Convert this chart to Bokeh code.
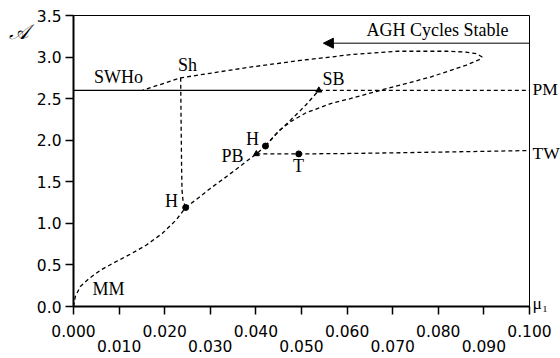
from bokeh.plotting import figure
from bokeh.models import (Range1d, FixedTicker, Label, Arrow, NormalHead, LinearAxis,
                          NumeralTickFormatter)
from bokeh.embed import file_html
from bokeh.resources import INLINE

# ---- data ----
main_x = [0.0000, 0.0004, 0.0015, 0.0035, 0.0060, 0.0090, 0.0125, 0.0160, 0.0195, 0.0225, 0.0246,
          0.0275, 0.0300, 0.0330, 0.0359, 0.0380, 0.0401, 0.0421]
main_y = [0.00, 0.12, 0.24, 0.34, 0.44, 0.53, 0.63, 0.74, 0.88, 1.04, 1.19,
          1.31, 1.42, 1.54, 1.66, 1.75, 1.835, 1.93]

sb_branch_x = [0.0421, 0.0445, 0.0466, 0.0487, 0.0509, 0.0538]
sb_branch_y = [1.93, 2.08, 2.19, 2.30, 2.42, 2.60]

loop_x = [0.0421, 0.0432, 0.0452, 0.0478, 0.0510, 0.0564, 0.0607, 0.0673, 0.0783, 0.0860,
          0.0890, 0.0896, 0.0885, 0.0860, 0.0819, 0.0710, 0.0607, 0.0564, 0.0498, 0.0388,
          0.0235, 0.0151]
loop_y = [1.93, 2.00, 2.12, 2.23, 2.33, 2.44, 2.50, 2.60, 2.76, 2.90,
          2.97, 3.00, 3.04, 3.06, 3.07, 3.07, 3.03, 3.00, 2.96, 2.88,
          2.75, 2.60]

sh_x = [0.0235, 0.0236, 0.0237, 0.0238, 0.0240, 0.0246]
sh_y = [2.75, 2.20, 1.70, 1.40, 1.28, 1.19]

pm_solid_x = [0.0, 0.0538]
pm_dash_x = [0.0538, 0.1]
pm_level = 2.6

tw_x = [0.0401, 0.0494, 0.060, 0.070, 0.080, 0.090, 0.100]
tw_y = [1.835, 1.835, 1.840, 1.848, 1.857, 1.866, 1.876]

dot_x = [0.0246, 0.0421, 0.0494]
dot_y = [1.19, 1.93, 1.835]
tri_x = [0.0401, 0.0538]
tri_y = [1.835, 2.60]

agh_start = (0.1, 3.167)
agh_end = (0.0548, 3.167)

label_text = ["SWHo", "Sh", "SB", "H", "PB", "T", "H", "MM"]
label_x = [0.00987, 0.0250, 0.0570, 0.03925, 0.03487, 0.04934, 0.02149, 0.00768]
label_y = [2.766, 2.899, 2.742, 2.009, 1.816, 1.684, 1.263, 0.2045]

right_labels = {2.61: "PM", 1.852: "TW", 0.04: "μ₁"}
y_title = {3.30: "𝒜"}

x_ticks_even = [0.0, 0.02, 0.04, 0.06, 0.08, 0.1]
x_ticks_odd = [0.01, 0.03, 0.05, 0.07, 0.09]
y_ticks = [0.0, 0.5, 1.0, 1.5, 2.0, 2.5, 3.0, 3.5]

SERIF = "Liberation Serif"
SANS = "DejaVu Sans"
SERIF_SIZE = "18px"

p = figure(frame_width=456, frame_height=291, min_border_left=73, min_border_right=31,
           min_border_top=15, min_border_bottom=52,
           x_range=Range1d(0, 0.1), y_range=Range1d(0, 3.5),
           output_backend="svg", toolbar_location=None, x_axis_location=None)
p.grid.visible = False
p.background_fill_color = "white"
p.border_fill_color = "white"
p.outline_line_color = "black"
p.outline_line_width = 1

all_ticks = sorted(x_ticks_even + x_ticks_odd)

ax1 = LinearAxis(ticker=FixedTicker(ticks=all_ticks),
                 formatter=NumeralTickFormatter(format="0.000"),
                 major_label_overrides={t: "" for t in x_ticks_odd})
ax2 = LinearAxis(ticker=FixedTicker(ticks=all_ticks),
                 formatter=NumeralTickFormatter(format="0.000"),
                 major_label_overrides={t: "" for t in x_ticks_even})
for ax in (ax1, ax2):
    ax.major_label_text_font = SANS
    ax.major_label_text_font_size = "15.5px"
    ax.major_label_text_color = "black"
    ax.minor_tick_line_color = None
ax1.axis_line_width = 2
ax1.axis_line_color = "black"
ax1.major_tick_line_color = "black"
ax1.major_tick_line_width = 1.5
ax1.major_tick_out = 8
ax1.major_tick_in = 0
ax1.major_label_standoff = 10
ax2.axis_line_color = None
ax2.major_tick_line_color = None
ax2.major_tick_out = 0
ax2.major_tick_in = 0
ax2.major_label_standoff = 0
p.add_layout(ax1, "below")
p.add_layout(ax2, "below")

ya = p.yaxis[0]
ya.ticker = FixedTicker(ticks=y_ticks)
ya.formatter = NumeralTickFormatter(format="0.0")
ya.major_label_text_font = SANS
ya.major_label_text_font_size = "15.5px"
ya.major_label_text_color = "black"
ya.axis_line_width = 2
ya.axis_line_color = "black"
ya.major_tick_line_color = "black"
ya.major_tick_line_width = 1.5
ya.major_tick_out = 8
ya.major_tick_in = 0
ya.minor_tick_line_color = None
ya.major_label_standoff = 4

# outer left axis carrying only the script-A title near the top
ta = LinearAxis(ticker=FixedTicker(ticks=list(y_title.keys())),
                major_label_overrides=y_title)
ta.axis_line_color = None
ta.major_tick_line_color = None
ta.minor_tick_line_color = None
ta.major_tick_out = 0
ta.major_tick_in = 0
ta.major_label_standoff = 5
ta.major_label_text_font = SERIF
ta.major_label_text_font_style = "italic"
ta.major_label_text_font_size = "21px"
ta.major_label_text_color = "black"
p.add_layout(ta, "left")

ra = LinearAxis(ticker=FixedTicker(ticks=list(right_labels.keys())),
                major_label_overrides=right_labels)
ra.axis_line_color = None
ra.major_tick_line_color = None
ra.minor_tick_line_color = None
ra.major_tick_out = 0
ra.major_tick_in = 0
ra.major_label_standoff = 3
ra.major_label_text_font = SERIF
ra.major_label_text_font_size = "17.5px"
ra.major_label_text_color = "black"
p.add_layout(ra, "right")

DASH = "4 3"
LW = 1.3
p.line(main_x, main_y, line_color="black", line_width=LW, line_dash=DASH)
p.line(sb_branch_x, sb_branch_y, line_color="black", line_width=LW, line_dash=DASH)
p.line(loop_x, loop_y, line_color="black", line_width=LW, line_dash=DASH)
p.line(sh_x, sh_y, line_color="black", line_width=LW, line_dash=DASH)
p.line(pm_solid_x, [pm_level, pm_level], line_color="black", line_width=1.2)
p.line(pm_dash_x, [pm_level, pm_level], line_color="black", line_width=LW, line_dash=DASH)
p.line(tw_x, tw_y, line_color="black", line_width=LW, line_dash=DASH)
p.scatter(dot_x, dot_y, marker="circle", size=6, color="black")
p.scatter(tri_x, tri_y, marker="triangle", size=6, color="black")

p.add_layout(Arrow(end=NormalHead(size=10, fill_color="black", line_color="black"),
                   x_start=agh_start[0], y_start=agh_start[1],
                   x_end=agh_end[0], y_end=agh_end[1],
                   line_color="black", line_width=1))
p.add_layout(Label(x=0.0954, y=3.32, text="AGH Cycles Stable", text_font=SERIF,
                   text_font_size=SERIF_SIZE, text_align="right", text_baseline="middle",
                   text_color="black"))

for t, x, y in zip(label_text, label_x, label_y):
    p.add_layout(Label(x=x, y=y, text=t, text_font=SERIF, text_font_size=SERIF_SIZE,
                       text_align="center", text_baseline="middle", text_color="black"))

open("out.html", "w").write(file_html(p, INLINE))
